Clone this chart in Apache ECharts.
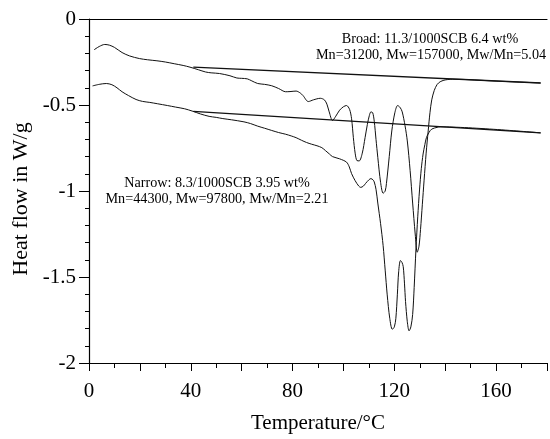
<!DOCTYPE html>
<html>
<head>
<meta charset="utf-8">
<script src="https://cdn.jsdelivr.net/npm/echarts@6/dist/echarts.min.js"></script>
<style>html,body{margin:0;padding:0;background:#fff}#c{width:550px;height:439px}</style>
</head>
<body>
<div id="c"></div>
<script>
// Tick labels
const xTicks = [0, 40, 80, 120, 160];
const yTicks = [0, -0.5, -1, -1.5, -2];

// Broad sample (upper curve)
const broadT = [2, 4, 6.2, 8, 10, 13, 16, 19.8, 23, 26.7, 30, 33.5, 37, 39.7, 43, 45.8, 48, 51.3, 55.4, 58.1, 60, 62.2, 64, 66.3, 69, 71.8, 74.5, 77.3, 79, 81.4, 83, 84.1, 86.2, 88.2, 90.9, 92.5, 93.5, 94.4, 95.7, 97, 98.5, 100, 101.2, 102.4, 103.2, 103.9, 104.6, 105.3, 106.2, 107.4, 108.5, 109.4, 110.2, 110.8, 111.5, 112.1, 112.8, 113.5, 114.6, 115.6, 116.4, 116.9, 118, 119, 120.2, 121.3, 122.3, 123.1, 124.2, 125.1, 126.2, 127.2, 128.2, 129, 129.7, 130.3, 131, 131.7, 132.5, 133.3, 134, 134.7, 135.7, 136.8, 138, 139.5, 141, 142.9, 160, 177.5];
const broadHF = [-0.179, -0.160, -0.148, -0.152, -0.165, -0.195, -0.215, -0.230, -0.237, -0.243, -0.250, -0.260, -0.270, -0.280, -0.295, -0.308, -0.313, -0.317, -0.330, -0.343, -0.345, -0.348, -0.360, -0.375, -0.380, -0.388, -0.404, -0.423, -0.422, -0.419, -0.430, -0.445, -0.480, -0.470, -0.461, -0.470, -0.495, -0.540, -0.590, -0.565, -0.530, -0.510, -0.503, -0.525, -0.580, -0.690, -0.780, -0.823, -0.825, -0.780, -0.690, -0.613, -0.560, -0.540, -0.545, -0.594, -0.700, -0.804, -0.950, -1.013, -1.000, -0.956, -0.800, -0.651, -0.545, -0.503, -0.515, -0.540, -0.620, -0.709, -0.880, -1.070, -1.250, -1.356, -1.320, -1.223, -1.080, -0.937, -0.780, -0.651, -0.545, -0.470, -0.415, -0.381, -0.365, -0.356, -0.352, -0.350, -0.361, -0.372];

// Narrow sample (lower curve)
const narrowT = [1.4, 4, 6.8, 9, 11, 13, 15.5, 18.5, 21, 23.9, 27, 30.8, 34, 37.6, 40.5, 43.8, 47.2, 50, 52.6, 56, 60.9, 63.5, 66.3, 69, 71.8, 74.5, 77.3, 79.5, 81.4, 83.5, 85.5, 87.5, 89.6, 91.5, 93, 94.5, 95.7, 98.5, 101.2, 102.3, 103.2, 104.6, 106, 106.8, 107.8, 108.7, 110, 110.8, 111.6, 112.1, 112.8, 113.5, 114.6, 115.6, 116.4, 117.2, 118.2, 119.2, 120, 120.6, 121.2, 121.7, 122.4, 123, 123.5, 124, 124.4, 125.1, 125.8, 126.5, 127.2, 127.8, 128.5, 129.2, 129.9, 130.6, 131.3, 132, 132.6, 133.6, 134.7, 136.8, 138, 177.5];
const narrowHF = [-0.389, -0.380, -0.375, -0.382, -0.400, -0.423, -0.445, -0.468, -0.479, -0.485, -0.493, -0.503, -0.512, -0.522, -0.535, -0.552, -0.566, -0.572, -0.579, -0.586, -0.598, -0.608, -0.623, -0.635, -0.648, -0.660, -0.670, -0.680, -0.690, -0.705, -0.718, -0.728, -0.737, -0.748, -0.766, -0.785, -0.800, -0.813, -0.832, -0.860, -0.899, -0.940, -0.971, -0.979, -0.972, -0.956, -0.935, -0.928, -0.935, -0.947, -0.990, -1.070, -1.190, -1.318, -1.460, -1.604, -1.740, -1.804, -1.790, -1.740, -1.600, -1.470, -1.404, -1.415, -1.440, -1.540, -1.642, -1.760, -1.813, -1.790, -1.718, -1.560, -1.337, -1.150, -0.994, -0.870, -0.785, -0.730, -0.690, -0.660, -0.640, -0.630, -0.627, -0.662];

// Straight baselines
const broadBaseT = [41, 177.5];
const broadBaseHF = [-0.280, -0.372];
const narrowBaseT = [41, 177.5];
const narrowBaseHF = [-0.537, -0.662];

const broadLabel = ['Broad: 11.3/1000SCB 6.4 wt%', 'Mn=31200, Mw=157000, Mw/Mn=5.04'];
const narrowLabel = ['Narrow: 8.3/1000SCB 3.95 wt%', 'Mn=44300, Mw=97800, Mw/Mn=2.21'];

const zip = (a, b) => a.map((v, i) => [v, b[i]]);
const FONT = 'Liberation Serif';
const lineStyleCurve = { color: '#111', width: 1 };
const lineStyleBase = { color: '#111', width: 1.3 };
const noteFont = '14.2px "Liberation Serif"';

const chart = echarts.init(document.getElementById('c'), null, { renderer: 'canvas' });
chart.setOption({
  animation: false,
  backgroundColor: '#fff',
  grid: { left: 89, right: 0, top: 19, bottom: 68 },
  xAxis: [{
    type: 'value', min: 0, max: 180, interval: 20,
    name: 'Temperature/°C', nameLocation: 'middle', nameGap: 50,
    nameTextStyle: { fontFamily: FONT, fontSize: 21, color: '#000' },
    axisLine: { show: true, onZero: false, lineStyle: { color: '#000', width: 1.2 } },
    axisTick: { show: true, inside: false, length: 8, lineStyle: { color: '#000' } },
    minorTick: { show: true, splitNumber: 2, length: 5, lineStyle: { color: '#000' } },
    splitLine: { show: false },
    axisLabel: {
      fontFamily: FONT, fontSize: 21, color: '#000', margin: 18,
      formatter: v => xTicks.includes(v) ? String(v) : ''
    }
  }, {
    type: 'value', min: 0, max: 180, position: 'top',
    axisLine: { show: true, onZero: false, lineStyle: { color: '#000', width: 1.2 } },
    axisTick: { show: false }, axisLabel: { show: false }, splitLine: { show: false }
  }],
  yAxis: {
    type: 'value', min: -2, max: 0, interval: 0.5,
    name: 'Heat flow in W/g', nameLocation: 'middle', nameGap: 55,
    nameTextStyle: { fontFamily: FONT, fontSize: 22, color: '#000', padding: [0, 16, 0, 0] },
    axisLine: { show: true, onZero: false, lineStyle: { color: '#000', width: 1.2 } },
    axisTick: { show: true, inside: false, length: 10, lineStyle: { color: '#000' } },
    minorTick: { show: true, splitNumber: 5, length: 4, lineStyle: { color: '#000' } },
    splitLine: { show: false },
    axisLabel: {
      fontFamily: FONT, fontSize: 21, color: '#000', margin: 13,
      formatter: v => yTicks.includes(v) ? String(v) : ''
    }
  },
  series: [
    { type: 'line', data: zip(broadT, broadHF), showSymbol: false, smooth: 0.3, lineStyle: lineStyleCurve, z: 3 },
    { type: 'line', data: zip(narrowT, narrowHF), showSymbol: false, smooth: 0.3, lineStyle: lineStyleCurve, z: 3 },
    { type: 'line', data: zip(broadBaseT, broadBaseHF), showSymbol: false, lineStyle: lineStyleBase, z: 2 },
    { type: 'line', data: zip(narrowBaseT, narrowBaseHF), showSymbol: false, lineStyle: lineStyleBase, z: 2 }
  ],
  graphic: [
    { type: 'text', x: 430, y: 39, style: { text: broadLabel[0], font: noteFont, fill: '#000', align: 'center', verticalAlign: 'middle' } },
    { type: 'text', x: 431, y: 55, style: { text: broadLabel[1], font: noteFont, fill: '#000', align: 'center', verticalAlign: 'middle' } },
    { type: 'text', x: 217, y: 183, style: { text: narrowLabel[0], font: noteFont, fill: '#000', align: 'center', verticalAlign: 'middle' } },
    { type: 'text', x: 217, y: 199, style: { text: narrowLabel[1], font: noteFont, fill: '#000', align: 'center', verticalAlign: 'middle' } }
  ]
});
</script>
</body>
</html>
